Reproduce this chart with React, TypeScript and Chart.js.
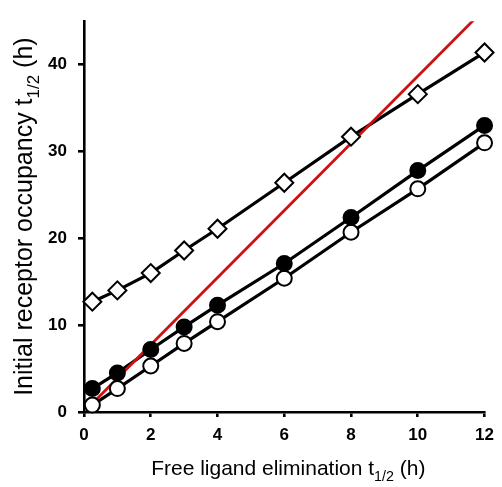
import React, { useEffect, useRef } from 'react';
import { Chart, registerables } from 'chart.js';

Chart.register(...registerables);

// ---- data ----
const xValues = [0.25, 1, 2, 3, 4, 6, 8, 10, 12];
const diamondY = [12.7, 14.0, 16.0, 18.6, 21.1, 26.4, 31.7, 36.6, 41.4];
const filledY = [2.7, 4.5, 7.2, 9.8, 12.3, 17.1, 22.4, 27.8, 33.0];
const openY = [0.8, 2.7, 5.3, 7.9, 10.4, 15.4, 20.7, 25.7, 31.0];
const redX = [0.25, 12];
const redY = [0.97, 46.4];
const xTicks = [0, 2, 4, 6, 8, 10, 12];
const yTicks = [0, 10, 20, 30, 40];
const xTitle = ['Free ligand elimination t', '1/2', ' (h)'];
const yTitle = ['Initial receptor occupancy t', '1/2', ' (h)'];

const FONT = '"Liberation Sans", Arial, Helvetica, sans-serif';

const pts = (xs: number[], ys: number[]) => xs.map((x, i) => ({ x, y: ys[i] }));

function drawSubTitle(ctx: CanvasRenderingContext2D, parts: string[], size: number) {
  const subSize = size * 0.68;
  ctx.font = `${size}px ${FONT}`;
  const w0 = ctx.measureText(parts[0]).width;
  const w2 = ctx.measureText(parts[2]).width;
  ctx.font = `${subSize}px ${FONT}`;
  const w1 = ctx.measureText(parts[1]).width;
  const total = w0 + w1 + w2;
  let x = -total / 2;
  ctx.textAlign = 'left';
  ctx.textBaseline = 'alphabetic';
  ctx.fillStyle = '#000';
  ctx.font = `${size}px ${FONT}`;
  ctx.fillText(parts[0], x, 0);
  x += w0;
  ctx.font = `${subSize}px ${FONT}`;
  ctx.fillText(parts[1], x, size * 0.28);
  x += w1;
  ctx.font = `${size}px ${FONT}`;
  ctx.fillText(parts[2], x, 0);
}

const titlePlugin = {
  id: 'subTitles',
  afterDraw(chart: any) {
    const { ctx, chartArea } = chart;
    ctx.save();
    ctx.translate((chartArea.left + chartArea.right) / 2 + 4, 475);
    drawSubTitle(ctx, xTitle, 21);
    ctx.restore();
    ctx.save();
    ctx.translate(32, (chartArea.top + chartArea.bottom) / 2);
    ctx.rotate(-Math.PI / 2);
    drawSubTitle(ctx, yTitle, 25);
    ctx.restore();
  },
};

export default function App() {
  const ref = useRef<HTMLCanvasElement>(null);

  useEffect(() => {
    if (!ref.current) return;
    const lineDs = (ys: number[]) => ({
      data: pts(xValues, ys),
      borderColor: '#000',
      borderWidth: 3.2,
      pointRadius: 0,
      showLine: true,
      order: 5,
    });
    const markerDs = (ys: number[], style: string, bg: string, r: number) => ({
      data: pts(xValues, ys),
      showLine: false,
      pointStyle: style,
      pointRadius: r,
      pointBackgroundColor: bg,
      pointBorderColor: '#000',
      pointBorderWidth: 2,
      clip: false,
      order: 1,
    });
    const chart = new Chart(ref.current, {
      type: 'scatter',
      data: {
        datasets: [
          lineDs(diamondY),
          lineDs(filledY),
          lineDs(openY),
          {
            data: pts(redX, redY),
            borderColor: '#d01010',
            borderWidth: 2.8,
            pointRadius: 0,
            showLine: true,
            clip: 0,
            order: 3,
          },
          markerDs(diamondY, 'rectRot', '#fff', 9),
          markerDs(filledY, 'circle', '#000', 7.5),
          markerDs(openY, 'circle', '#fff', 7.5),
        ] as any,
      },
      options: {
        animation: false,
        responsive: false,
        events: [],
        layout: { padding: { top: 5, right: 12, left: 0, bottom: 0 } },
        plugins: { legend: { display: false }, tooltip: { enabled: false }, title: { display: false } },
        scales: {
          x: {
            type: 'linear',
            min: 0,
            max: 12,
            afterBuildTicks: (s: any) => {
              s.ticks = xTicks.map((v) => ({ value: v }));
            },
            afterFit: (s: any) => {
              s.height = 75;
            },
            border: { display: true, color: '#000', width: 2.6 },
            grid: { drawOnChartArea: false, drawTicks: true, tickLength: 5, color: '#000', lineWidth: 2.6 },
            ticks: {
              color: '#000',
              font: { family: FONT, size: 17, weight: 'bold' },
              padding: 8,
              maxRotation: 0,
              autoSkip: false,
            },
          },
          y: {
            type: 'linear',
            min: 0,
            max: 45,
            afterBuildTicks: (s: any) => {
              s.ticks = yTicks.map((v) => ({ value: v }));
            },
            afterFit: (s: any) => {
              s.width = 84;
            },
            border: { display: true, color: '#000', width: 2.6 },
            grid: { drawOnChartArea: false, drawTicks: true, tickLength: 6, color: '#000', lineWidth: 2.6 },
            ticks: {
              color: '#000',
              font: { family: FONT, size: 17, weight: 'bold' },
              padding: 11,
              autoSkip: false,
            },
          },
        },
      },
      plugins: [titlePlugin],
    });
    return () => chart.destroy();
  }, []);

  return (
    <div style={{ position: 'absolute', left: 0, top: 0, width: 502, height: 487, background: '#fff' }}>
      <canvas ref={ref} width={502} height={487} style={{ width: 502, height: 487 }} />
    </div>
  );
}
